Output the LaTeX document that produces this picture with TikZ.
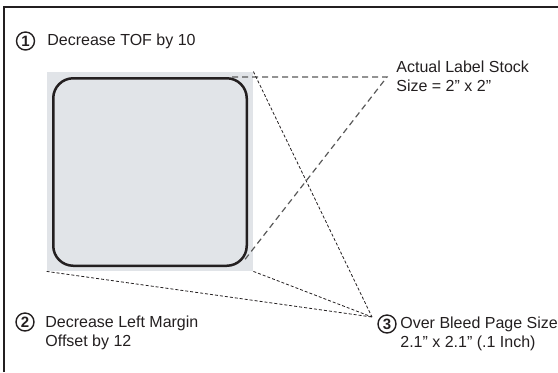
\documentclass[tikz,border=0pt]{standalone}
\usepackage{fontspec}
\setmainfont{Liberation Sans}
\usetikzlibrary{positioning}
\definecolor{bleedgray}{HTML}{E1E4E8}
\definecolor{inkdark}{HTML}{231F20}
\tikzset{
  num/.style={circle,draw=inkdark,line width=0.7pt,minimum size=9pt,inner sep=0pt,
    font=\fontsize{7.5}{8}\selectfont\bfseries,text=inkdark},
  note/.style={anchor=west,inner sep=0pt,align=left,font=\fontsize{8}{9.5}\selectfont,text=inkdark},
  guide/.style={dash pattern=on 1.5pt off 1pt,line width=0.4pt,draw=inkdark},
  stockguide/.style={dash pattern=on 3pt off 2pt,line width=0.6pt,draw=black!65},
}
\begin{document}
\begin{tikzpicture}[x=0.5pt,y=-0.5pt]
  \useasboundingbox (0,0) rectangle (558,372);
  % frame
  \draw[line width=0.6pt,draw=inkdark] (4,372) -- (4,7) -- (558,7);

  % bleed area and label stock
  \node[fill=bleedgray,minimum width=103pt,minimum height=99.5pt,inner sep=0pt] (bleed) at (150,171.5) {};
  \node[draw=inkdark,line width=1.25pt,rounded corners=10pt,minimum width=96.75pt,
    minimum height=93.75pt,inner sep=0pt] (stock) at (150,172) {};

  % guide points
  \coordinate (stocktip) at (387,77);
  \coordinate (bleedtip) at (372,317);

  % guides
  \draw[stockguide] ([xshift=-8pt]stock.north east) -- (stocktip)
    -- ([shift={(-2.5pt,2.5pt)}]stock.south east);
  \draw[guide] (bleed.north east) -- (bleedtip);
  \draw[guide] (bleed.south east) -- (bleedtip);
  \draw[guide] (bleed.south west) -- (bleedtip);

  % notes
  \node[num] (n1) at (25.5,41) {1};
  \node[note] (tof) at (47,41) {Decrease TOF by 10};
  \node[note] (stocksize) at (396,76) {Actual Label Stock\\Size = 2" x 2"};
  \node[num] (n2) at (25,322) {2};
  \node[note] (margin) at (45,333) {Decrease Left Margin\\Offset by 12};
  \node[num] (n3) at (387,324) {3};
  \node[note] (bleedsize) at (400,334) {Over Bleed Page Size\\2.1" x 2.1" (.1 Inch)};
\end{tikzpicture}
\end{document}
